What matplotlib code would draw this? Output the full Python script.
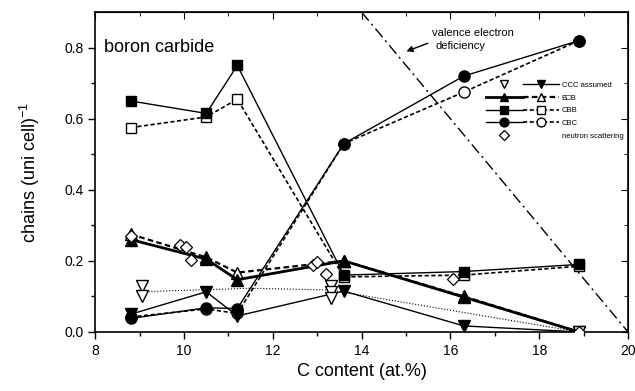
import matplotlib
matplotlib.use("Agg")
import matplotlib.pyplot as plt
from matplotlib.legend_handler import HandlerTuple
from matplotlib.lines import Line2D

plt.rcParams['font.family'] = ['Liberation Sans', 'DejaVu Sans']

x = [8.8, 10.5, 11.2, 13.6, 16.3, 18.9]

cbb_full = [0.65, 0.615, 0.75, 0.16, 0.17, 0.19]
cbb_open = [0.575, 0.605, 0.655, 0.155, 0.16, 0.185]
cbc_full = [0.038, 0.068, 0.066, 0.53, 0.72, 0.82]
cbc_open = [0.042, 0.065, 0.052, 0.53, 0.675, 0.82]
bb_full = [0.26, 0.205, 0.147, 0.20, 0.098, 0.0]
bb_open = [0.275, 0.21, 0.167, 0.20, 0.10, 0.0]
ccc_full = [0.05, 0.113, 0.045, 0.115, 0.017, 0.0]

ccc_meas_x = [9.05, 9.05, 13.3, 13.3, 13.3, 18.9]
ccc_meas_y = [0.13, 0.10, 0.13, 0.112, 0.095, 0.0]

fit_x = [9.0, 11.5, 13.3, 18.9]
fit_y = [0.113, 0.123, 0.118, 0.0]

neutron_x = [8.8, 9.9, 10.04, 10.15, 12.9, 13.0, 13.2, 16.05, 18.9]
neutron_y = [0.27, 0.244, 0.238, 0.203, 0.188, 0.197, 0.162, 0.15, 0.0]

ved_x = [14.0, 20.0]
ved_y = [0.9, 0.0]

fig = plt.figure(figsize=(6.35, 3.91), dpi=100)
ax = fig.add_axes([0.150, 0.151, 0.839, 0.818])

ms = 7
k = 'black'
l_cbb_f, = ax.plot(x, cbb_full, '-', color=k, lw=1.0, marker='s', ms=ms, mfc=k, mec=k, zorder=4)
l_cbb_o, = ax.plot(x, cbb_open, '--', color=k, lw=1.2, dashes=(2.5, 1.5), marker='s', ms=ms, mfc='white', mec=k, zorder=3)
l_cbc_f, = ax.plot(x, cbc_full, '-', color=k, lw=1.0, marker='o', ms=ms + 1, mfc=k, mec=k, zorder=4)
l_cbc_o, = ax.plot(x, cbc_open, '--', color=k, lw=1.2, dashes=(2.5, 1.5), marker='o', ms=ms + 1, mfc='white', mec=k, zorder=3)
l_bb_f, = ax.plot(x, bb_full, '-', color=k, lw=2.0, marker='^', ms=ms + 1, mfc=k, mec=k, zorder=4)
l_bb_o, = ax.plot(x, bb_open, '--', color=k, lw=1.6, dashes=(2.5, 1.5), marker='^', ms=ms + 1, mfc='white', mec=k, zorder=3)
l_ccc_f, = ax.plot(x, ccc_full, '-', color=k, lw=1.0, marker='v', ms=ms + 1, mfc=k, mec=k, zorder=4)
l_ccc_m, = ax.plot(ccc_meas_x, ccc_meas_y, ls='none', marker='v', ms=ms + 1, mfc='white', mec=k, zorder=5)
ax.plot(fit_x, fit_y, ':', color=k, lw=0.8, zorder=2)
l_neu, = ax.plot(neutron_x, neutron_y, ls='none', marker='D', ms=6, mfc='white', mec=k, mew=0.9, zorder=5)
ax.plot(ved_x, ved_y, color=k, lw=1.0, ls=(0, (8, 3, 1.5, 3)), zorder=2)

ax.annotate('', xy=(14.95, 0.787), xytext=(15.55, 0.815),
            arrowprops=dict(arrowstyle='-|>', color=k, lw=1.0, mutation_scale=9))
ax.text(15.58, 0.842, 'valence electron', fontsize=8, va='center', ha='left')
ax.text(15.67, 0.806, 'deficiency', fontsize=8, va='center', ha='left')
ax.text(8.2, 0.80, 'boron carbide', fontsize=13, va='center', ha='left')

blank = Line2D([], [], ls='none', marker=None)
handles = [(l_ccc_m, l_ccc_f), (l_bb_f, l_bb_o), (l_cbb_f, l_cbb_o), (l_cbc_f, l_cbc_o), (l_neu, blank)]
labels = ['CCC assumed', 'B\u25a1B', 'CBB', 'CBC', 'neutron scattering']
leg = ax.legend(handles, labels, loc='upper left', bbox_to_anchor=(0.731, 0.7875),
                handler_map={tuple: HandlerTuple(ndivide=None, pad=0.0)},
                handlelength=9.5, handletextpad=0.4, labelspacing=0.7,
                borderpad=0.2, borderaxespad=0.0, frameon=False, fontsize=5.5, markerscale=0.8)

ax.set_xlim(8, 20)
ax.set_ylim(0, 0.9)
ax.set_xticks([8, 10, 12, 14, 16, 18, 20])
ax.set_xticks([9, 11, 13, 15, 17, 19], minor=True)
ax.set_yticks([0.0, 0.2, 0.4, 0.6, 0.8])
ax.set_yticks([0.1, 0.3, 0.5, 0.7], minor=True)
ax.set_yticklabels(['0.0', '0.2', '0.4', '0.6', '0.8'])
ax.tick_params(which='major', direction='out', length=5, width=1, labelsize=10)
ax.tick_params(which='minor', direction='out', length=3, width=1)

top = ax.secondary_xaxis('top')
top.set_xticks([8, 10, 12, 14, 16, 18, 20])
top.set_xticks([9, 11, 13, 15, 17, 19], minor=True)
top.tick_params(which='major', direction='in', length=5, labeltop=False)
top.tick_params(which='minor', direction='in', length=3)
right = ax.secondary_yaxis('right')
right.set_yticks([0.0, 0.2, 0.4, 0.6, 0.8])
right.set_yticks([0.1, 0.3, 0.5, 0.7], minor=True)
right.tick_params(which='major', direction='in', length=5, labelright=False)
right.tick_params(which='minor', direction='in', length=3)

for s in ax.spines.values():
    s.set_linewidth(1.2)

ax.set_xlabel('C content (at.%)', fontsize=13)
ax.set_ylabel('chains (uni cell)$^{\\mathregular{-1}}$', fontsize=13, labelpad=16)

fig.savefig('out.png', dpi=100)
